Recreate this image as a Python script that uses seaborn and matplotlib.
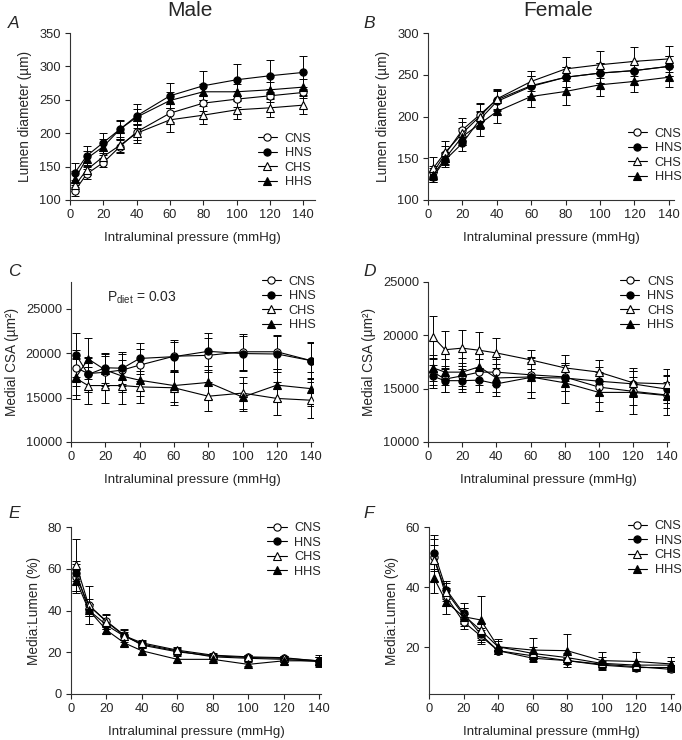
import numpy as np
import matplotlib
matplotlib.use('Agg')
import matplotlib.pyplot as plt
import seaborn as sns

# pressure steps used in every panel
pressure = [3, 10, 20, 30, 40, 60, 80, 100, 120, 140]
groups = ['CNS', 'HNS', 'CHS', 'HHS']

# panel A - male lumen diameter (um)
a_mean = {
    'CNS': [114, 139, 156, 180, 202, 230, 245, 251, 256, 261],
    'HNS': [141, 166, 186, 206, 226, 256, 271, 280, 286, 291],
    'CHS': [122, 145, 165, 182, 200, 220, 227, 235, 238, 242],
    'HHS': [132, 162, 180, 206, 224, 249, 262, 262, 265, 269],
}
a_err = {
    'CNS': [8, 8, 7, 10, 12, 13, 12, 12, 10, 8],
    'HNS': [14, 15, 15, 14, 18, 19, 22, 24, 24, 25],
    'CHS': [8, 8, 8, 10, 14, 18, 13, 13, 13, 14],
    'HHS': [12, 12, 12, 12, 12, 12, 12, 12, 12, 12],
}

# panel B - female lumen diameter (um)
b_mean = {
    'CNS': [133, 155, 184, 202, 220, 237, 247, 252, 255, 260],
    'HNS': [128, 148, 168, 196, 218, 236, 247, 252, 255, 260],
    'CHS': [138, 157, 180, 200, 221, 242, 257, 262, 266, 269],
    'HHS': [130, 150, 176, 191, 206, 224, 230, 238, 242, 247],
}
b_err = {
    'CNS': [8, 10, 14, 14, 12, 12, 12, 12, 12, 12],
    'HNS': [6, 8, 9, 10, 12, 12, 12, 12, 12, 12],
    'CHS': [14, 14, 14, 15, 12, 12, 14, 16, 17, 16],
    'HHS': [8, 8, 10, 14, 14, 13, 16, 13, 13, 12],
}

# panel C - male medial CSA (um^2)
c_mean = {
    'CNS': [18350, 17700, 17850, 18100, 18650, 19650, 19750, 20150, 20150, 19150],
    'HNS': [19800, 17600, 18350, 18300, 19400, 19600, 20200, 19950, 19900, 19150],
    'CHS': [17150, 16350, 16350, 16350, 16200, 16100, 15150, 15500, 14900, 14700],
    'HHS': [17300, 19350, 18100, 17400, 16950, 16350, 16700, 15050, 16400, 16000],
}
c_err = {
    'CNS': [2000, 1800, 1800, 1800, 1800, 1800, 1900, 2000, 1900, 2100],
    'HNS': [2500, 2000, 1700, 1800, 1700, 1700, 2100, 2000, 2000, 2000],
    'CHS': [2300, 2100, 2000, 2100, 1800, 1900, 1650, 1800, 1900, 2000],
    'HHS': [2000, 2300, 1800, 1800, 1800, 1800, 1900, 1600, 1800, 1900],
}

# panel D - female medial CSA (um^2)
d_mean = {
    'CNS': [16550, 15900, 16200, 16550, 16550, 16300, 16100, 15150, 14750, 14400],
    'HNS': [16150, 15750, 15750, 15800, 15450, 16050, 16000, 15700, 15450, 14950],
    'CHS': [19850, 18650, 18800, 18600, 18350, 17700, 16950, 16550, 15550, 15450],
    'HHS': [16950, 16550, 16550, 17050, 16000, 16100, 15550, 14650, 14650, 14350],
}
d_err = {
    'CNS': [1200, 1200, 1200, 1200, 1200, 1600, 1300, 1400, 1300, 1200],
    'HNS': [1100, 1100, 1100, 1100, 1100, 1900, 1200, 1300, 1200, 1300],
    'CHS': [2000, 1750, 1700, 1700, 1400, 900, 1200, 1150, 1350, 1400],
    'HHS': [1200, 1200, 1300, 1300, 1300, 1400, 1900, 1750, 2000, 1850],
}

# panel E - male media:lumen ratio (%)
e_mean = {
    'CNS': [56.0, 42.5, 34.9, 28.2, 23.4, 20.2, 18.3, 17.5, 17.1, 15.9],
    'HNS': [58.2, 40.2, 33.0, 27.7, 23.9, 20.6, 17.8, 17.1, 16.6, 15.5],
    'CHS': [61.7, 42.5, 34.6, 27.9, 24.5, 21.0, 18.6, 17.8, 17.4, 15.8],
    'HHS': [54.2, 40.2, 30.6, 24.5, 20.7, 16.6, 16.6, 14.2, 15.9, 15.9],
}
e_err = {
    'CNS': [7.7, 3.0, 3.0, 2.5, 1.5, 1.5, 1.0, 1.0, 1.0, 2.0],
    'HNS': [4.0, 3.0, 2.0, 2.0, 1.5, 1.5, 1.0, 1.0, 1.0, 2.0],
    'CHS': [12.5, 9.0, 3.5, 3.0, 1.5, 1.5, 1.0, 1.0, 1.0, 2.0],
    'HHS': [5.0, 3.0, 1.5, 1.5, 1.5, 1.5, 1.0, 1.0, 1.5, 3.0],
}

# panel F - female media:lumen ratio (%)
f_mean = {
    'CNS': [50.1, 36.8, 28.5, 23.8, 18.9, 17.2, 15.6, 14.4, 13.6, 12.7],
    'HNS': [51.5, 39.2, 31.3, 24.3, 18.9, 16.4, 15.6, 14.1, 13.3, 13.3],
    'CHS': [49.0, 38.5, 30.7, 25.7, 20.2, 18.0, 16.6, 14.7, 14.1, 14.1],
    'HHS': [42.9, 35.1, 30.2, 29.1, 20.2, 19.1, 18.9, 15.6, 15.3, 14.5],
}
f_err = {
    'CNS': [4.0, 3.0, 2.5, 2.0, 1.0, 1.0, 1.0, 1.0, 1.0, 1.0],
    'HNS': [6.0, 3.0, 3.5, 2.0, 1.0, 1.0, 1.0, 1.0, 1.0, 1.0],
    'CHS': [7.0, 3.0, 2.5, 2.5, 2.5, 2.0, 1.5, 2.0, 1.5, 1.5],
    'HHS': [5.0, 4.0, 3.0, 8.0, 2.0, 4.0, 5.4, 3.0, 3.0, 2.4],
}

# marker look for each group
marker_style = {
    'CNS': ('o', 'white'),
    'HNS': ('o', 'black'),
    'CHS': ('^', 'white'),
    'HHS': ('^', 'black'),
}

sns.set_style('ticks')
plt.rcParams['font.family'] = ['Liberation Sans', 'DejaVu Sans']
plt.rcParams['mathtext.default'] = 'regular'
plt.rcParams['xtick.labelsize'] = 9.3
plt.rcParams['ytick.labelsize'] = 9.3

W, H = 682, 740
fig = plt.figure(figsize=(W / 100, H / 100), dpi=100)


def make_axes(left, right, top, bottom):
    return fig.add_axes([left / W, 1 - bottom / H, (right - left) / W, (bottom - top) / H])


def draw_panel(ax, means, errs, ylim, yticks, xmax, ylabel, leg_loc, leg_anchor):
    for g in groups:
        mk, face = marker_style[g]
        ax.errorbar(pressure, means[g], yerr=errs[g], fmt='none', ecolor='black',
                    elinewidth=0.7, capsize=2.6, capthick=0.7, zorder=2)
        sns.lineplot(x=pressure, y=means[g], ax=ax, color='black', linewidth=0.8,
                     marker=mk, markersize=5.2,
                     markerfacecolor=face, markeredgecolor='black', markeredgewidth=0.8,
                     label=g, zorder=3)
    ax.set_xlim(0, xmax)
    ax.set_ylim(*ylim)
    ax.set_xticks([0, 20, 40, 60, 80, 100, 120, 140])
    ax.set_yticks(yticks)
    ax.set_xlabel('Intraluminal pressure (mmHg)', fontsize=9.6, labelpad=8)
    ax.set_ylabel(ylabel, fontsize=9.8, labelpad=5)
    ax.tick_params(direction='out', length=3.5, width=0.8, pad=3)
    for s in ['left', 'bottom']:
        ax.spines[s].set_linewidth(0.8)
        ax.spines[s].set_color('#333333')
    sns.despine(ax=ax)
    ax.legend(loc=leg_loc, bbox_to_anchor=leg_anchor, frameon=False, fontsize=9.2,
              handlelength=1.5, handletextpad=0.6, labelspacing=0.2, borderaxespad=0,
              borderpad=0)


ax_a = make_axes(70, 315, 33, 200)
draw_panel(ax_a, a_mean, a_err, (100, 350), [100, 150, 200, 250, 300, 350], 147,
           'Lumen diameter (µm)', 'lower right', (0.985, 0.07))

ax_b = make_axes(428, 674, 33, 200)
draw_panel(ax_b, b_mean, b_err, (100, 300), [100, 150, 200, 250, 300], 143,
           'Lumen diameter (µm)', 'lower right', (1.03, 0.1))

ax_c = make_axes(71, 313, 282, 442)
draw_panel(ax_c, c_mean, c_err, (10000, 28000), [10000, 15000, 20000, 25000], 141,
           'Medial CSA (µm²)', 'upper right', (1.01, 1.04))
ax_c.text(0.15, 0.9, 'P$_{diet}$ = 0.03', transform=ax_c.transAxes, fontsize=10, va='center')

ax_d = make_axes(428, 669, 282, 442)
draw_panel(ax_d, d_mean, d_err, (10000, 25000), [10000, 15000, 20000, 25000], 141,
           'Medial CSA (µm²)', 'upper right', (1.02, 1.04))

ax_e = make_axes(71, 321, 527, 694)
draw_panel(ax_e, e_mean, e_err, (0, 80), [0, 20, 40, 60, 80], 141,
           'Media:Lumen (%)', 'upper right', (1.0, 1.03))

ax_f = make_axes(429, 674, 527, 694)
draw_panel(ax_f, f_mean, f_err, (4.5, 60), [20, 40, 60], 142,
           'Media:Lumen (%)', 'upper right', (1.03, 1.04))

# column titles and panel letters
fig.text(190 / W, 1 - 11 / H, 'Male', fontsize=15, ha='center', va='center')
fig.text(558 / W, 1 - 11 / H, 'Female', fontsize=15, ha='center', va='center')
letters = [('A', 8, 23), ('B', 363, 23), ('C', 8, 272), ('D', 363, 272), ('E', 8, 513), ('F', 363, 513)]
for letter, lx, ly in letters:
    fig.text(lx / W, 1 - ly / H, letter, fontsize=12.5, style='italic', ha='left', va='center')

fig.savefig('out.png', dpi=100)
